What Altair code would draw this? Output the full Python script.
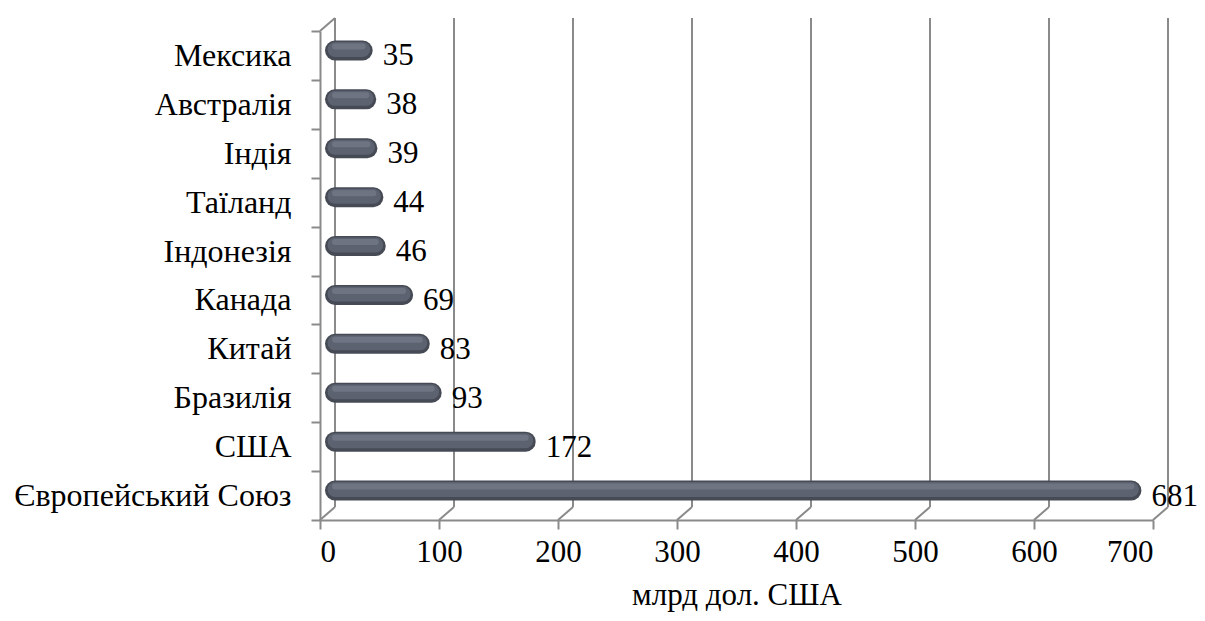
import altair as alt
import pandas as pd

countries = ["Мексика", "Австралія", "Індія\u00a0\u00a0", "Таїланд", "Індонезія",
             "Канада", "Китай", "Бразилія", "США", "Європейський Союз"]
values = [35, 38, 39, 44, 46, 69, 83, 93, 172, 681]
ticks = [0, 100, 200, 300, 400, 500, 600, 700]

W, H = 833, 489
DX, DY = 15, 13
FONT = "Liberation Serif"

df = pd.DataFrame({"country": countries, "value": values})
tdf = pd.DataFrame({"t": ticks})

xscale = alt.Scale(domain=[0, 700], nice=False, zero=True)
yscale = alt.Scale(domain=countries, paddingInner=0, paddingOuter=0)

xaxis = alt.Axis(values=ticks, title="млрд дол. США", grid=False,
                 domainColor="#8a8a8a", domainWidth=2,
                 tickColor="#8a8a8a", tickWidth=2, tickSize=9,
                 labelFont=FONT, labelFontSize=31, labelColor="#000",
                 labelPadding=8, titleFont=FONT, titleFontSize=31,
                 titleFontWeight="normal", titleColor="#000",
                 titlePadding=13)
yaxis = alt.Axis(title=None, grid=False, tickBand="extent",
                 domainColor="#8a8a8a", domainWidth=2,
                 tickColor="#8a8a8a", tickWidth=2, tickSize=9,
                 labelFont=FONT, labelFontSize=32, labelColor="#000",
                 labelPadding=20, labelLimit=0)

grid = alt.Chart(tdf).mark_rule(color="#8a8a8a", strokeWidth=2, xOffset=DX).encode(
    x=alt.X("t:Q", scale=xscale, axis=xaxis),
    y=alt.value(-DY), y2=alt.value(H - DY),
)
diag = alt.Chart(tdf).mark_rule(color="#8a8a8a", strokeWidth=2, x2Offset=DX).encode(
    x=alt.X("t:Q", scale=xscale, axis=xaxis),
    x2="t:Q",
    y=alt.value(H), y2=alt.value(H - DY),
)
topdiag = alt.Chart(tdf).transform_filter("datum.t == 0").mark_rule(
    color="#8a8a8a", strokeWidth=2, x2Offset=DX).encode(
    x=alt.X("t:Q", scale=xscale, axis=xaxis),
    x2="t:Q",
    y=alt.value(0), y2=alt.value(-DY),
)


def cylinder(width, color, yoff):
    return alt.Chart(df).transform_calculate(base="0").mark_rule(
        strokeWidth=width, color=color, strokeCap="round",
        xOffset=15, x2Offset=1, yOffset=yoff, y2Offset=yoff,
    ).encode(
        x=alt.X("base:Q", scale=xscale, axis=xaxis),
        x2="value:Q",
        y=alt.Y("country:N", scale=yscale, sort=countries, axis=yaxis),
    )


bar_dark = cylinder(20, "#454a54", -5)
bar_mid = cylinder(15, "#5c6270", -6)
bar_hi = cylinder(6, "#6e7482", -9)

labels = alt.Chart(df).mark_text(
    align="left", baseline="middle", dx=21, dy=1, font=FONT, fontSize=31, color="#000"
).encode(
    x=alt.X("value:Q", scale=xscale, axis=xaxis),
    y=alt.Y("country:N", scale=yscale, sort=countries, axis=yaxis),
    text="value:Q",
)

chart = alt.layer(grid, diag, topdiag, bar_dark, bar_mid, bar_hi, labels).properties(
    width=W, height=H,
    autosize=alt.AutoSizeParams(type="none"),
    padding={"left": 312, "top": 23, "right": 44, "bottom": 93},
).configure_view(stroke=None)

chart.save("out.html", embed_options={"renderer": "svg", "actions": False})
